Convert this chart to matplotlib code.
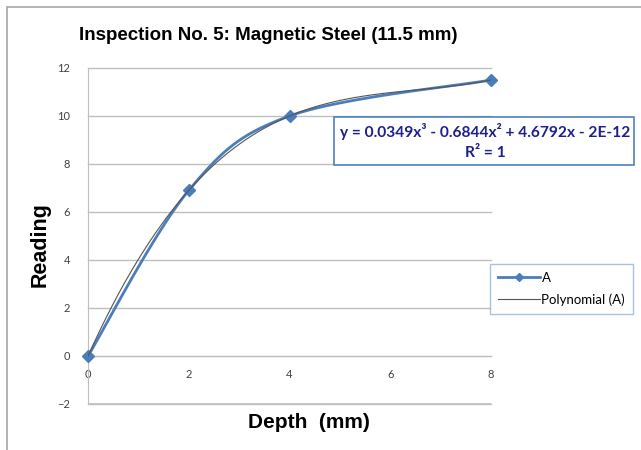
import numpy as np
import matplotlib
matplotlib.use("Agg")
import matplotlib.pyplot as plt
from matplotlib.lines import Line2D
from matplotlib.patches import Rectangle

depth = [0, 2, 4, 8]
reading = [0, 6.9, 10, 11.5]
xticks = [0, 2, 4, 6, 8]
yticks = [-2, 0, 2, 4, 6, 8, 10, 12]
title = "Inspection No. 5: Magnetic Steel (11.5 mm)"
equation = "y = 0.0349x³ - 0.6844x² + 4.6792x - 2E-12"
r2_text = "R² = 1"

BLUE = "#4A7EBB"
GRID = "#BFBFBF"
TICK = "#404040"


def smooth(xs, ys, n=40):
    # catmull-rom like Excel's "smoothed line"
    px = [xs[0]] + list(xs) + [xs[-1]]
    py = [ys[0]] + list(ys) + [ys[-1]]
    ox, oy = [], []
    t = np.linspace(0, 1, n)
    for i in range(1, len(px) - 2):
        for p, o in ((px, ox), (py, oy)):
            p0, p1, p2, p3 = p[i - 1], p[i], p[i + 1], p[i + 2]
            o.extend(0.5 * (2 * p1 + (-p0 + p2) * t
                            + (2 * p0 - 5 * p1 + 4 * p2 - p3) * t ** 2
                            + (-p0 + 3 * p1 - 3 * p2 + p3) * t ** 3))
    return np.array(ox), np.array(oy)


fig = plt.figure(figsize=(6.41, 4.5), dpi=100)
fig.patches.append(Rectangle((7 / 641, -0.1), 1.2, (450 - 7) / 450 + 0.1,
                             transform=fig.transFigure, fill=False,
                             edgecolor="#A6A6A6", linewidth=1.2))

ax = fig.add_axes([88 / 641, 46 / 450, 403 / 641, 336 / 450])
ax.set_xlim(0, 8)
ax.set_ylim(-2, 12)
ax.set_xticks(xticks)
ax.set_yticks(yticks)
ax.yaxis.grid(True, color=GRID, linewidth=1, clip_on=False)
ax.set_axisbelow(True)
for s in ["top", "right"]:
    ax.spines[s].set_visible(False)
ax.spines["left"].set_color(GRID)
ax.spines["bottom"].set_position(("data", 0))
ax.spines["bottom"].set_color(GRID)
ax.tick_params(axis="both", length=0, labelsize=8, labelcolor=TICK)
ax.tick_params(axis="y", pad=13)
ax.tick_params(axis="x", pad=9)
for lab in ax.get_xticklabels() + ax.get_yticklabels():
    lab.set_family(["Lato", "DejaVu Sans"])
# bottom edge line at -2
ax.axhline(-2, color=GRID, linewidth=1.2, zorder=0.5)

sx, sy = smooth(depth, reading)
ax.plot(sx, sy, color=BLUE, linewidth=2, zorder=3)
ax.plot(depth, reading, linestyle="none", marker="D", markersize=6.5,
        color=BLUE, zorder=4, clip_on=False)

coef = np.polyfit(depth, reading, 3)
tx = np.linspace(0, 8, 200)
ax.plot(tx, np.polyval(coef, tx), color="#555555", linewidth=0.8, zorder=5)

fig.text(268 / 641, 1 - 35 / 450, title, ha="center", va="center",
         fontsize=13.5, fontweight="bold", family="Liberation Sans")
fig.text(40 / 641, 1 - 245 / 450, "Reading", ha="center", va="center",
         rotation=90, fontsize=15.5, fontweight="bold", family="Liberation Sans")
fig.text(309 / 641, 1 - 423 / 450, "Depth  (mm)", ha="center", va="center",
         fontsize=15, fontweight="bold", family="Liberation Sans")

fig.patches.append(Rectangle((334 / 641, 1 - 165 / 450), 300 / 641, 48 / 450,
                             transform=fig.transFigure, facecolor="white",
                             edgecolor="#4F81BD", linewidth=1.2, zorder=6))
fig.text(485 / 641, 1 - 131 / 450, equation, ha="center", va="center",
         fontsize=11.2, fontweight="bold", color="#1F1F8C",
         family=["Lato", "DejaVu Sans"], zorder=7)
fig.text(485 / 641, 1 - 153 / 450, r2_text, ha="center", va="center",
         fontsize=11.2, fontweight="bold", color="#1F1F8C",
         family=["Lato", "DejaVu Sans"], zorder=7)

handles = [Line2D([], [], color=BLUE, linewidth=2, marker="D", markersize=4),
           Line2D([], [], color="#555555", linewidth=0.8)]
leg = fig.legend(handles, ["A", "Polynomial (A)"],
                 loc="upper left", bbox_to_anchor=(490 / 641, 1 - 264 / 450),
                 frameon=True, fancybox=False,
                 prop={"family": ["Lato", "DejaVu Sans"], "size": 9.5},
                 handlelength=3.2, handletextpad=0.1, labelspacing=0.7,
                 borderpad=0.6, borderaxespad=0)
leg.get_frame().set_edgecolor("#95B3D7")
leg.get_frame().set_linewidth(1)

fig.savefig("out.png", dpi=100)
